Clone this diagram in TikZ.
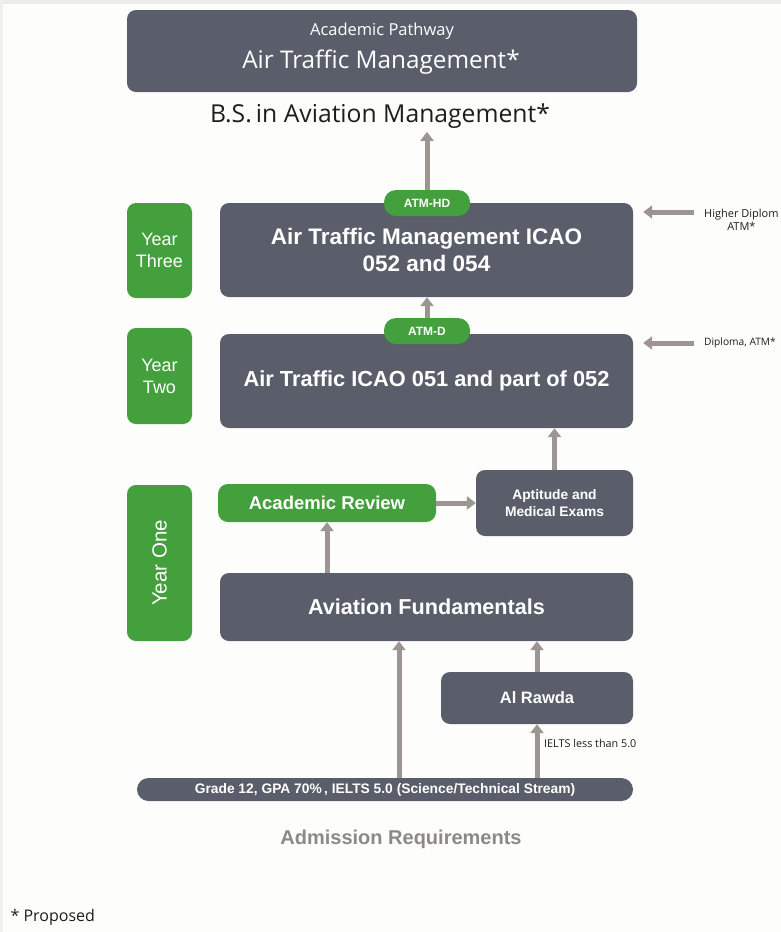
\documentclass[tikz,border=0pt]{standalone}
\usepackage{fontspec}
\setmainfont{Liberation Sans}
\newfontfamily\myriad{Open Sans}
\usepackage{xcolor}
\usetikzlibrary{arrows.meta}
\definecolor{bg}{HTML}{FDFDFB}
\definecolor{slate}{HTML}{5A5E6B}
\definecolor{leaf}{HTML}{43A03C}
\definecolor{arrowc}{HTML}{9C9591}
\definecolor{textc}{HTML}{FFFFFF}
\definecolor{ink}{HTML}{1E1E1E}
\definecolor{muted}{HTML}{8C8A88}
\tikzset{
  box/.style={fill=slate, rounded corners=9pt, text=textc, align=center, inner sep=0pt, font=\bfseries},
  yearbox/.style={fill=leaf, rounded corners=9pt, text=textc, align=center, inner sep=0pt, minimum width=65pt},
  pill/.style={fill=leaf, rounded corners=12pt, text=textc, inner sep=0pt, minimum width=86pt, minimum height=26pt, font=\bfseries\fontsize{12}{13}\selectfont},
  flow/.style={draw=arrowc, line width=5pt, -{Triangle[length=9pt, width=13pt]}},
  side/.style={text=ink, align=center, inner sep=1pt, font=\myriad\fontsize{11}{13}\selectfont},
}
\begin{document}
\begin{tikzpicture}[x=1pt, y=-1pt]
  \useasboundingbox (0,0) rectangle (781,932);
  \fill[bg] (0,0) rectangle (781,932);
  \fill[black!8] (0,0) rectangle (781,4);
  \fill[black!6] (0,0) rectangle (3,932);

  % top of the pathway
  \node[box, font=\myriad, minimum width=510pt, minimum height=82pt] (path) at (382,51) {};
  \node[text=textc, font=\myriad\fontsize{16.5}{18}\selectfont] (pathsub) at (382,31) {Academic Pathway};
  \node[text=textc, font=\myriad\fontsize{24.3}{27}\selectfont] (pathtitle) at (381,62) {Air Traffic Management*};
  \node[text=ink, font=\myriad\fontsize{24.7}{28}\selectfont] (degree) at (380,116) {B.S.\,in Aviation Management*};

  % year three
  \node[yearbox, minimum height=95pt, font=\fontsize{18}{22}\selectfont] (y3) at (159.5,250.5) {Year\\Three};
  \node[box, minimum width=413pt, minimum height=94pt, font=\bfseries\fontsize{22.5}{27}\selectfont] (hd) at (426.5,250) {Air Traffic Management ICAO\\052 and 054};
  \node[pill] (atmhd) at (427,203) {ATM-HD};

  % year two
  \node[yearbox, minimum height=96pt, font=\fontsize{18}{22}\selectfont] (y2) at (159.5,376) {Year\\Two};
  \node[box, minimum width=413pt, minimum height=94pt, font=\bfseries\fontsize{21.8}{26}\selectfont] (dip) at (426.5,381) {Air Traffic ICAO 051 and part of 052};
  \node[pill] (atmd) at (427,331) {ATM-D};

  % year one
  \node[yearbox, minimum height=156pt] (y1) at (159.5,563) {};
  \node[text=textc, rotate=90, font=\fontsize{20.5}{24}\selectfont] (y1lab) at (159.5,563) {Year One};
  \node[box, fill=leaf, minimum width=218pt, minimum height=38pt, rounded corners=10pt, font=\bfseries\fontsize{18.5}{21}\selectfont] (review) at (327,503) {Academic Review};
  \node[box, minimum width=157pt, minimum height=66pt, font=\bfseries\fontsize{13.8}{17}\selectfont] (exams) at (554.5,503) {Aptitude and\\Medical Exams};
  \node[box, minimum width=413pt, minimum height=68pt, font=\bfseries\fontsize{21.6}{25}\selectfont] (fund) at (426.5,607) {Aviation Fundamentals};
  \node[box, minimum width=192pt, minimum height=52pt, font=\bfseries\fontsize{16.5}{19}\selectfont] (rawda) at (537,698) {Al Rawda};

  % admission
  \node[box, rounded corners=11.5pt, minimum width=496pt, minimum height=23pt, font=\bfseries\fontsize{13.8}{15}\selectfont] (req) at (385,789.5) {Grade 12, GPA 70\%\,, IELTS 5.0 (Science/Technical Stream)};
  \node[text=muted, font=\bfseries\fontsize{20}{23}\selectfont] (reqlab) at (401,839) {Admission Requirements};
  \node[anchor=west, text=ink, font=\myriad\fontsize{16}{19}\selectfont] (note) at (7,917) {* Proposed};

  % side notes
  \node[side, anchor=west] (hdnote) at (703,220) {Higher Diplom\\ATM*};
  \node[side, anchor=west, font=\myriad\fontsize{10.2}{12}\selectfont] (dnote) at (703,343) {Diploma, ATM*};
  \node[side, anchor=west, font=\myriad\fontsize{10.8}{12}\selectfont] (ielts) at (543,743) {IELTS less than 5.0};

  % connectors
  \draw[flow] (atmhd.north) -- (degree.south -| atmhd.north);
  \draw[flow] (atmd.north) -- (hd.south -| atmd.north);
  \draw[flow] (exams.north) -- (dip.south -| exams.north);
  \draw[flow] (review.east) -- (exams.west);
  \draw[flow] (fund.north -| review.south) -- (review.south);
  \draw[flow] (rawda.north) -- (fund.south -| rawda.north);
  \draw[flow] (req.north -| rawda.south) -- (rawda.south);
  \draw[flow] (req.north -| 399,0) -- (fund.south -| 399,0);
  \draw[flow] ([xshift=-9pt]hdnote.west |- 0,212) -- ([xshift=10pt]hd.east |- 0,212);
  \draw[flow] ([xshift=-9pt]dnote.west) -- ([xshift=10pt]dip.east |- dnote.west);
\end{tikzpicture}
\end{document}
